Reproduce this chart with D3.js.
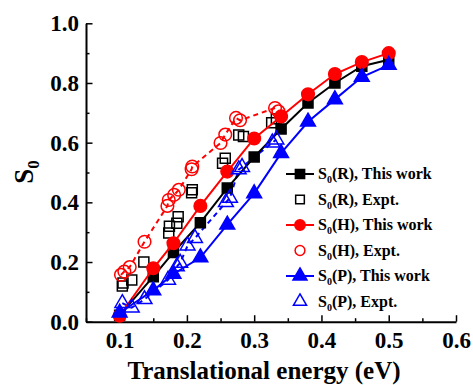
<!DOCTYPE html>
<html>
<head>
<meta charset="utf-8">
<script src="https://cdn.jsdelivr.net/npm/d3@7"></script>
<style>
  body { margin: 0; background: #fff; }
  svg text { font-family: "Liberation Serif", "DejaVu Serif", "Times New Roman", serif !important; font-weight: bold; fill: #000; }
</style>
</head>
<body>
<div id="chart"></div>
<script>
// data: [energy (eV), S0]
var rWork = [[0.10, 0.022], [0.15, 0.151], [0.18, 0.232], [0.22, 0.332], [0.26, 0.448], [0.30, 0.552], [0.34, 0.646], [0.38, 0.733], [0.42, 0.800], [0.46, 0.856], [0.50, 0.878]];
var rExpt = [[0.104, 0.120], [0.105, 0.130], [0.118, 0.140], [0.136, 0.200], [0.173, 0.297], [0.174, 0.320], [0.185, 0.330], [0.187, 0.352], [0.207, 0.432], [0.208, 0.442], [0.253, 0.531], [0.257, 0.548], [0.277, 0.626], [0.284, 0.621], [0.326, 0.667], [0.333, 0.680]];
var hWork = [[0.10, 0.020], [0.15, 0.179], [0.18, 0.263], [0.22, 0.388], [0.26, 0.503], [0.30, 0.614], [0.34, 0.688], [0.38, 0.762], [0.42, 0.830], [0.46, 0.870], [0.50, 0.900]];
var hExpt = [[0.102, 0.157], [0.107, 0.168], [0.115, 0.183], [0.137, 0.268], [0.171, 0.388], [0.173, 0.408], [0.181, 0.425], [0.188, 0.442], [0.207, 0.511], [0.208, 0.520], [0.250, 0.599], [0.257, 0.627], [0.273, 0.683], [0.279, 0.675], [0.331, 0.716], [0.336, 0.705]];
var pWork = [[0.10, 0.030], [0.15, 0.105], [0.18, 0.160], [0.22, 0.215], [0.26, 0.325], [0.30, 0.430], [0.34, 0.565], [0.38, 0.670], [0.42, 0.745], [0.46, 0.820], [0.50, 0.860]];
var pExpt = [[0.104, 0.062], [0.118, 0.047], [0.137, 0.075], [0.172, 0.140], [0.185, 0.185], [0.190, 0.197], [0.201, 0.255], [0.212, 0.280], [0.258, 0.400], [0.264, 0.415], [0.277, 0.510], [0.282, 0.518], [0.327, 0.600], [0.333, 0.610]];

var xTicks = [0.1, 0.2, 0.3, 0.4, 0.5, 0.6];
var yTicks = [0.0, 0.2, 0.4, 0.6, 0.8, 1.0];
var legendNames = ["(R), This work", "(R), Expt.", "(H), This work", "(H), Expt.", "(P), This work", "(P), Expt."];

var svgWidth = 473;
var svgHeight = 385;
var serif = "'Liberation Serif', 'DejaVu Serif', serif";

var svg = d3.select("#chart")
  .append("svg")
  .attr("width", svgWidth)
  .attr("height", svgHeight)
  .attr("font-family", serif);

var xScale = d3.scaleLinear().domain([0.05, 0.6]).range([86, 456]);
var yScale = d3.scaleLinear().domain([0, 1]).range([321.7, 23.3]);

// minor ticks
svg.append("g")
  .attr("transform", "translate(0,321.7)")
  .call(d3.axisBottom(xScale).tickValues(d3.range(0.05, 0.61, 0.1)).tickSize(-3.5).tickFormat(""))
  .call(g => g.select(".domain").remove());
svg.append("g")
  .attr("transform", "translate(86,0)")
  .call(d3.axisLeft(yScale).tickValues([0.1, 0.3, 0.5, 0.7, 0.9]).tickSize(-3.5).tickFormat(""))
  .call(g => g.select(".domain").remove());

// major axes
svg.append("g")
  .attr("transform", "translate(0,321.7)")
  .call(d3.axisBottom(xScale).tickValues(xTicks).tickSize(-6.5).tickSizeOuter(0).tickPadding(10).tickFormat(d3.format(".1f")));
svg.append("g")
  .attr("transform", "translate(86,0)")
  .call(d3.axisLeft(yScale).tickValues(yTicks).tickSize(-6.5).tickSizeOuter(0).tickPadding(7).tickFormat(d3.format(".1f")));

svg.selectAll("g").attr("font-family", serif);
svg.selectAll(".tick line").attr("stroke-width", 1.5).attr("stroke", "#000");
svg.selectAll(".domain").attr("stroke-width", 2).attr("stroke", "#000");
svg.selectAll(".tick text").attr("font-size", 23).attr("font-weight", "bold");

// axis titles
svg.append("text")
  .attr("x", 264)
  .attr("y", 379)
  .attr("text-anchor", "middle")
  .attr("font-size", 25)
  .text("Translational energy (eV)");

var yTitle = svg.append("text")
  .attr("transform", "translate(33,172) rotate(-90)")
  .attr("text-anchor", "middle")
  .attr("font-size", 27);
yTitle.append("tspan").text("S");
yTitle.append("tspan").attr("font-size", 17).attr("dy", 6).text("0");

var line = d3.line().x(d => xScale(d[0])).y(d => yScale(d[1]));

// dashed lines through the experimental points
svg.append("path").datum(hExpt).attr("d", line).attr("fill", "none")
  .attr("stroke", "#ff0000").attr("stroke-width", 2).attr("stroke-dasharray", "5,4");
svg.append("path").datum(pExpt).attr("d", line).attr("fill", "none")
  .attr("stroke", "#0000ff").attr("stroke-width", 2).attr("stroke-dasharray", "5,4");

var shapes = { square: d3.symbolSquare, circle: d3.symbolCircle, triangle: d3.symbolTriangle };
var sizes = { square: 100, circle: 125, triangle: 95 };

var series = [
  { data: rWork, color: "#000000", shape: "square", filled: true },
  { data: rExpt, color: "#000000", shape: "square", filled: false },
  { data: hWork, color: "#ff0000", shape: "circle", filled: true },
  { data: hExpt, color: "#ff0000", shape: "circle", filled: false },
  { data: pWork, color: "#0000ff", shape: "triangle", filled: true },
  { data: pExpt, color: "#0000ff", shape: "triangle", filled: false }
];

series.forEach(function(s) {
  if (s.filled) {
    svg.append("path").datum(s.data).attr("d", line).attr("fill", "none")
      .attr("stroke", s.color).attr("stroke-width", 2);
  }
  svg.append("g").selectAll("path")
    .data(s.data)
    .enter()
    .append("path")
    .attr("transform", d => `translate(${xScale(d[0])},${yScale(d[1])})`)
    .attr("d", d3.symbol().type(shapes[s.shape]).size(sizes[s.shape])())
    .attr("fill", s.filled ? s.color : "none")
    .attr("stroke", s.color)
    .attr("stroke-width", 1.5);
});

// legend
var legend = svg.append("g");
series.forEach(function(s, i) {
  var y = 174 + i * 25.5;
  if (s.filled) {
    legend.append("line").attr("x1", 286).attr("x2", 314).attr("y1", y).attr("y2", y)
      .attr("stroke", s.color).attr("stroke-width", 2);
  }
  legend.append("path")
    .attr("transform", `translate(300,${y})`)
    .attr("d", d3.symbol().type(shapes[s.shape]).size(s.filled ? 85 : 75)())
    .attr("fill", s.filled ? s.color : "none")
    .attr("stroke", s.color)
    .attr("stroke-width", 1.5);
  var t = legend.append("text").attr("x", 318).attr("y", y + 5).attr("font-size", 16).attr("font-weight", "bold");
  t.append("tspan").text("S");
  t.append("tspan").attr("font-size", 10).attr("dy", 4).text("0");
  t.append("tspan").attr("dy", -4).text(legendNames[i]);
});
</script>
</body>
</html>
